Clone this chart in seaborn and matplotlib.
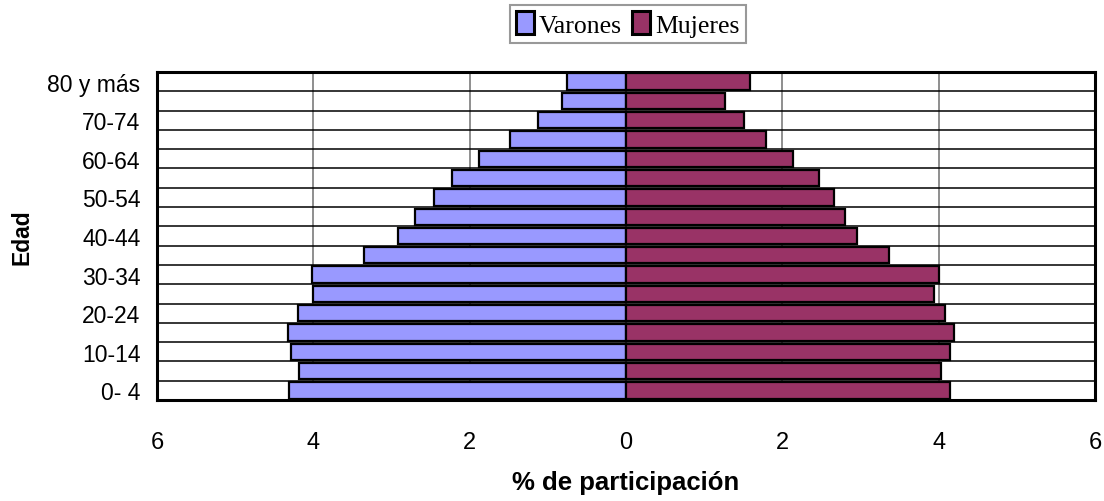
import matplotlib
matplotlib.use('Agg')
import matplotlib.pyplot as plt
import seaborn as sns
import pandas as pd
from matplotlib.patches import Patch
from matplotlib.ticker import FixedLocator, FuncFormatter

# ---- data ----
edades = ["80 y más", "75-79", "70-74", "65-69", "60-64", "55-59", "50-54", "45-49",
          "40-44", "35-39", "30-34", "25-29", "20-24", "15-19", "10-14", "5-9", "0- 4"]
varones = [0.76, 0.82, 1.12, 1.49, 1.88, 2.23, 2.45, 2.70, 2.92, 3.35,
           4.02, 4.01, 4.20, 4.33, 4.29, 4.18, 4.31]
mujeres = [1.58, 1.27, 1.51, 1.79, 2.14, 2.47, 2.66, 2.80, 2.95, 3.36,
           4.00, 3.94, 4.08, 4.20, 4.15, 4.03, 4.15]
etiquetas_visibles = ["80 y más", "70-74", "60-64", "50-54", "40-44",
                      "30-34", "20-24", "10-14", "0- 4"]
series = ["Varones", "Mujeres"]
colores = ["#9999FF", "#993366"]
xticks = [-6, -4, -2, 0, 2, 4, 6]

sns.set_style("white")
plt.rcParams['font.family'] = ['Liberation Sans', 'DejaVu Sans']
plt.rcParams['text.color'] = 'black'
plt.rcParams['axes.labelcolor'] = 'black'
plt.rcParams['xtick.color'] = 'black'
plt.rcParams['ytick.color'] = 'black'

df = pd.DataFrame({
    "edad": edades * 2,
    "valor": [-v for v in varones] + list(mujeres),
    "sexo": [series[0]] * len(edades) + [series[1]] * len(edades),
})

fig = plt.figure(figsize=(11.04, 5.02), dpi=100)
ax = fig.add_axes([157 / 1104, 1 - 401 / 502, (1095 - 157) / 1104, (401 - 73) / 502])

sns.barplot(data=df, x="valor", y="edad", hue="sexo", order=edades, hue_order=series,
            palette=colores, dodge=False, orient="h", width=0.85, edgecolor="black",
            linewidth=1.6, errorbar=None, legend=False, ax=ax, zorder=3, saturation=1)

ax.set_xlim(-6, 6)
ax.set_ylim(len(edades) - 0.5, -0.5)
ax.set_xticks(xticks)
ax.xaxis.set_major_formatter(FuncFormatter(lambda v, p: f"{abs(int(round(v)))}"))
ax.set_yticks(range(len(edades)))
ax.set_yticklabels([e if e in etiquetas_visibles else "" for e in edades])
ax.yaxis.set_minor_locator(FixedLocator([i + 0.5 for i in range(len(edades) - 1)]))

ax.set_axisbelow(True)
ax.grid(axis="x", which="major", color="#707070", linewidth=1.1)
ax.grid(axis="y", which="minor", color="black", linewidth=1.1)
ax.grid(axis="y", which="major", visible=False)

ax.tick_params(axis="both", which="both", length=0)
ax.tick_params(axis="x", labelsize=17, pad=22)
ax.tick_params(axis="y", labelsize=16.5, pad=12)

for s in ax.spines.values():
    s.set_visible(True)
    s.set_color("black")
    s.set_linewidth(2.2)

ax.set_xlabel("% de participación", fontsize=18.5, fontweight="bold")
ax.xaxis.set_label_coords(0.5, -(483 - 401) / 328)
ax.set_ylabel("Edad", fontsize=16.5, fontweight="bold")
ax.yaxis.set_label_coords((22 - 157) / 938, 0.5)
ax.yaxis.label.set_verticalalignment("center")
ax.xaxis.label.set_verticalalignment("center")

handles = [Patch(facecolor=c, edgecolor="black", linewidth=2.2, label=s)
           for s, c in zip(series, colores)]
leg = fig.legend(handles=handles, loc="center", bbox_to_anchor=(628 / 1104, 1 - 25 / 502),
                 ncol=2, prop={"family": "Liberation Serif", "size": 18.5},
                 frameon=True, fancybox=False, edgecolor="#808080",
                 handlelength=0.7, handleheight=1.0, handletextpad=0.2,
                 columnspacing=0.4, borderpad=0.25, borderaxespad=0)
leg.get_frame().set_linewidth(1.5)

fig.savefig("out.png", dpi=100)
